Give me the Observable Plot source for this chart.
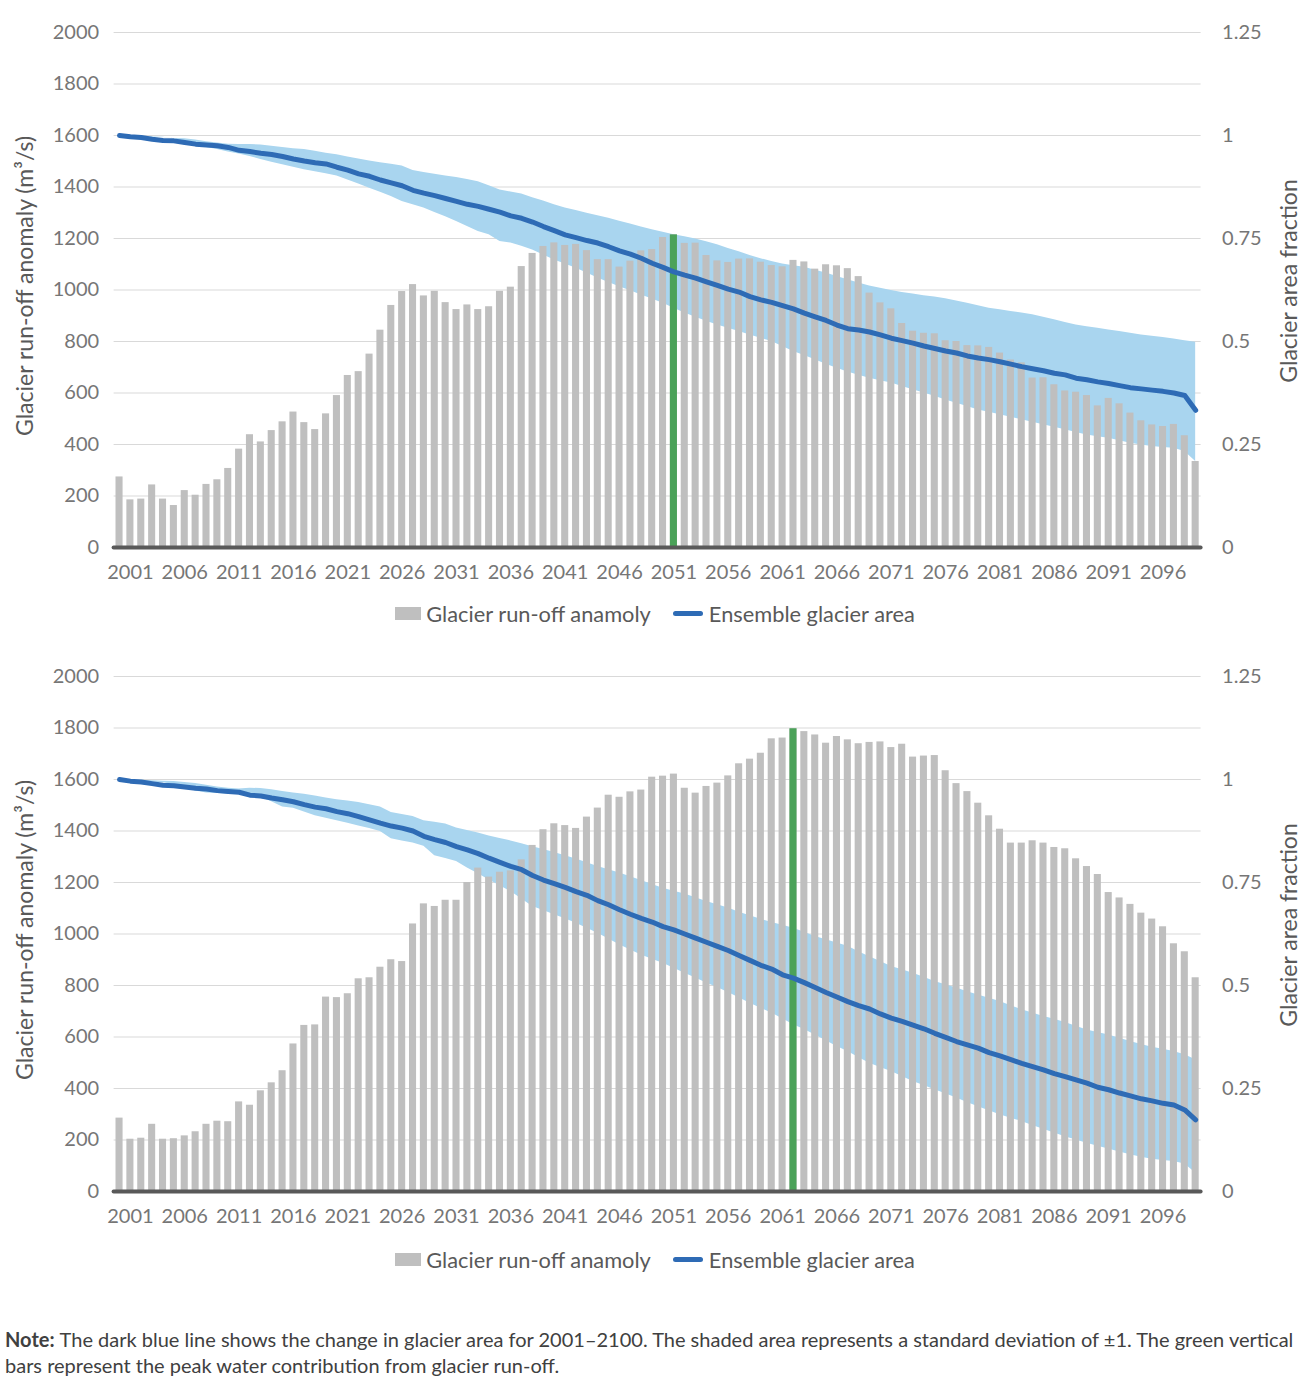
<!DOCTYPE html>
<html>
<head>
<meta charset="utf-8">
<script src="https://cdn.jsdelivr.net/npm/d3@7"></script>
<script src="https://cdn.jsdelivr.net/npm/@observablehq/plot@0.6"></script>
<style>
  body { margin: 0; background: #fff; font-family: "Source Sans Pro", Lato, sans-serif; }
  #wrap { position: relative; width: 1310px; height: 1381px; }
  .panel { position: absolute; left: 0; }
  .legend { position: absolute; left: 0; width: 1310px; height: 30px; display: flex; justify-content: center; align-items: center; font-size: 21.8px; color: #595959; }
  .legend .sq { width: 26px; height: 13px; background: #bfbfbf; margin-right: 5px; }
  .legend .ln { width: 30px; height: 5px; border-radius: 3px; background: #2e6bb5; margin-right: 6px; margin-left: 22px; }
  .note { position: absolute; left: 5px; top: 1326px; width: 1305px; font-size: 20px; line-height: 26px; color: #404040; white-space: nowrap; }
  .note b { color: #404040; margin-right: 5px; }
</style>
</head>
<body>
<div id="wrap">
  <div class="panel" id="p1" style="top:0px"></div>
  <div class="legend" style="top:598px"><span class="sq"></span><span id="lg1a"></span><span class="ln"></span><span id="lg1b"></span></div>
  <div class="panel" id="p2" style="top:644px"></div>
  <div class="legend" style="top:1244px"><span class="sq"></span><span id="lg2a"></span><span class="ln"></span><span id="lg2b"></span></div>
  <div class="note">
    <div><b>Note:</b><span>The dark blue line shows the change in glacier area for 2001–2100. The shaded area represents a standard deviation of ±1. The green vertical</span></div>
    <div>bars represent the peak water contribution from glacier run-off.</div>
  </div>
</div>
<script>
// ---------- data ----------
const years = d3.range(2000, 2100);
const xLabelYears = d3.range(2001, 2100, 5);
const leftTicks = [0, 200, 400, 600, 800, 1000, 1200, 1400, 1600, 1800, 2000];
const rightTicks = [0, 0.25, 0.5, 0.75, 1, 1.25];
const leftTitle = "Glacier run-off anomaly (m³/s)";
const rightTitle = "Glacier area fraction";
const seriesBarLabel = "Glacier run-off anamoly";
const seriesLineLabel = "Ensemble glacier area";

// Top panel
const runoffA = [274,185,188,243,188,163,221,203,245,263,307,382,438,410,454,488,526,485,458,519,590,668,683,751,844,940,994,1021,977,995,951,924,942,924,
  935,995,1011,1091,1142,1169,1183,1173,1177,1153,1118,1118,1089,1112,1152,1157,1204,1214,1181,1182,1134,1113,1107,1120,1121,1108,1095,1090,1115,1109,1081,1098,1094,1083,
  1052,988,950,927,870,840,832,830,803,800,784,783,777,755,728,717,658,659,632,608,603,590,550,579,558,522,492,476,470,478,434,334];
const areaA = [1.0,.997,.995,.991,.988,.987,.983,.979,.977,.975,.971,.964,.961,.957,.954,.949,.943,.938,.934,.931,.923,.916,.907,.901,.892,.885,.878,.867,.860,.854,.847,.840,.833,.828,
  .821,.814,.805,.799,.790,.779,.769,.759,.752,.745,.739,.730,.720,.712,.702,.690,.680,.669,.661,.654,.645,.636,.627,.620,.609,.601,.595,.587,.579,.569,.560,.551,.540,.531,
  .528,.523,.516,.508,.502,.496,.489,.483,.477,.472,.465,.460,.456,.451,.445,.439,.434,.429,.423,.419,.411,.407,.402,.398,.393,.388,.385,.382,.379,.375,.369,.333];
const upperA = [1.000,.999,.997,.996,.995,.993,.992,.989,.985,.982,.979,.978,.978,.977,.974,.971,.968,.966,.962,.957,.953,.948,.943,.938,.934,.930,.926,.915,.910,.906,.902,.898,.893,.888,
  .878,.868,.863,.858,.849,.841,.832,.824,.818,.811,.805,.799,.792,.785,.778,.771,.765,.759,.754,.749,.742,.735,.726,.718,.709,.701,.694,.688,.684,.680,.673,.666,.658,.650,
  .642,.635,.629,.624,.619,.615,.611,.608,.604,.598,.593,.587,.581,.577,.573,.569,.565,.559,.553,.546,.540,.536,.532,.528,.524,.520,.516,.513,.510,.506,.502,.498];
const lowerA = [1.000,.999,.998,.997,.996,.993,.984,.978,.971,.966,.960,.955,.949,.942,.935,.929,.923,.917,.912,.907,.902,.892,.882,.872,.862,.852,.840,.832,.824,.813,.803,.791,.779,.767,
  .759,.743,.739,.731,.722,.710,.698,.688,.678,.666,.654,.643,.633,.623,.613,.603,.593,.581,.569,.559,.549,.540,.532,.524,.516,.508,.500,.488,.476,.466,.456,.445,.435,.426,
  .418,.411,.405,.399,.391,.383,.375,.367,.358,.350,.342,.334,.328,.322,.316,.310,.304,.298,.292,.286,.279,.273,.269,.265,.259,.253,.249,.245,.243,.241,.233,.209];

// Bottom panel
const runoffB = [285,203,207,261,203,205,216,232,261,273,271,348,335,391,422,469,573,645,647,755,753,768,826,830,871,900,893,1039,1117,1107,1131,1131,1200,1256,
  1221,1240,1245,1288,1344,1405,1428,1421,1410,1454,1489,1539,1531,1552,1559,1609,1613,1621,1566,1547,1573,1586,1614,1661,1679,1702,1758,1761,1797,1786,1773,1741,1767,1754,
  1739,1744,1746,1724,1737,1687,1691,1693,1634,1584,1553,1508,1459,1407,1353,1353,1362,1353,1336,1331,1292,1262,1231,1161,1140,1115,1081,1058,1028,962,931,830];
const areaB = [1.0,.996,.994,.990,.986,.985,.982,.979,.977,.973,.971,.969,.962,.960,.955,.951,.946,.939,.933,.929,.922,.917,.910,.902,.894,.887,.882,.875,.862,.854,.847,.837,.829,.820,
  .809,.799,.789,.781,.767,.756,.747,.738,.728,.719,.706,.696,.684,.673,.663,.654,.643,.635,.625,.615,.605,.595,.585,.573,.561,.549,.540,.526,.518,.507,.495,.483,.472,.461,
  .451,.443,.431,.421,.413,.404,.395,.384,.374,.364,.356,.348,.337,.329,.320,.311,.303,.295,.286,.279,.271,.263,.253,.247,.239,.232,.225,.220,.214,.210,.198,.174];
const upperB = [1.000,.999,.998,.997,.996,.995,.993,.990,.986,.982,.979,.977,.979,.978,.975,.971,.967,.964,.960,.955,.951,.948,.944,.939,.933,.920,.915,.910,.900,.896,.892,.882,.876,.870,
  .863,.857,.851,.844,.837,.830,.823,.815,.807,.798,.789,.781,.773,.764,.755,.745,.736,.729,.722,.713,.704,.696,.688,.678,.669,.661,.653,.646,.639,.629,.619,.611,.603,.595,
  .582,.570,.558,.546,.538,.530,.520,.510,.502,.494,.485,.477,.469,.461,.451,.441,.433,.425,.418,.410,.401,.392,.386,.380,.372,.364,.357,.350,.345,.340,.332,.320];
const lowerB = [1.000,.998,.996,.994,.992,.988,.979,.972,.967,.966,.965,.964,.961,.957,.946,.933,.930,.921,.912,.906,.900,.894,.887,.881,.874,.856,.851,.846,.838,.815,.808,.801,.785,.771,
  .756,.742,.728,.710,.692,.682,.672,.662,.651,.639,.627,.613,.599,.586,.574,.564,.554,.542,.530,.518,.506,.495,.483,.470,.457,.445,.433,.419,.405,.393,.380,.366,.352,.340,
  .325,.311,.301,.291,.279,.267,.257,.247,.237,.227,.216,.206,.196,.186,.178,.170,.160,.151,.142,.133,.125,.117,.110,.103,.096,.089,.083,.078,.075,.073,.067,.045];

// ---------- chart ----------
const K = 2000 / 1.25; // right axis (fraction) -> left axis units
const FONT = '"Source Sans Pro", Lato, sans-serif';

function panel(runoff, area, upper, lower) {
  const data = years.map((year, i) => ({year, runoff: runoff[i], area: area[i], upper: upper[i], lower: lower[i]}));
  const peak = d3.greatest(data, d => d.runoff);
  return Plot.plot({
    width: 1310,
    height: 590,
    marginTop: 32,
    marginBottom: 43,
    marginLeft: 113.6,
    marginRight: 109.4,
    style: {fontFamily: FONT, background: "transparent", overflow: "visible"},
    x: {type: "band", domain: years, paddingInner: 0.35, paddingOuter: 0.175, axis: null, label: null},
    y: {domain: [0, 2000], axis: null, label: null},
    marks: [
      Plot.gridY(leftTicks.filter(t => t > 0), {stroke: "#d9d9d9", strokeOpacity: 1, strokeWidth: 1.2}),
      Plot.areaY(data, {x: "year", y1: d => d.lower * K, y2: d => d.upper * K, fill: "#a9d5ef"}),
      Plot.barY(data, {x: "year", y: "runoff", fill: "#bfbfbf"}),
      Plot.barY([peak], {x: "year", y: "runoff", fill: "#4ba259"}),
      Plot.lineY(data, {x: "year", y: d => d.area * K, stroke: "#2e6bb5", strokeWidth: 5, strokeLinecap: "round", strokeLinejoin: "round"}),
      Plot.ruleY([0], {stroke: "#595959", strokeWidth: 4, strokeLinecap: "round"}),
      Plot.axisY(leftTicks, {anchor: "left", label: null, tickSize: 0, tickPadding: 15, fontSize: 20, color: "#767676", tickFormat: d => String(d)}),
      Plot.axisY(rightTicks.map(t => t * K), {anchor: "right", label: null, tickSize: 0, tickPadding: 21, fontSize: 20, color: "#767676", tickFormat: v => String(+(v / K).toFixed(2))}),
      Plot.axisX(xLabelYears, {anchor: "bottom", label: null, tickSize: 0, tickPadding: 17, fontSize: 20, color: "#767676", tickFormat: d => String(d)}),
      Plot.text([leftTitle], {text: d => d, frameAnchor: "left", textAnchor: "middle", rotate: -90, dx: -88.6, dy: -4, fontSize: 23, fill: "#595959"}),
      Plot.text([rightTitle], {text: d => d, frameAnchor: "right", textAnchor: "middle", rotate: -90, dx: 89, dy: -9, fontSize: 23, fill: "#595959"})
    ]
  });
}

document.getElementById("p1").append(panel(runoffA, areaA, upperA, lowerA));
document.getElementById("p2").append(panel(runoffB, areaB, upperB, lowerB));
for (const id of ["lg1a", "lg2a"]) document.getElementById(id).textContent = seriesBarLabel;
for (const id of ["lg1b", "lg2b"]) document.getElementById(id).textContent = seriesLineLabel;
</script>
</body>
</html>
